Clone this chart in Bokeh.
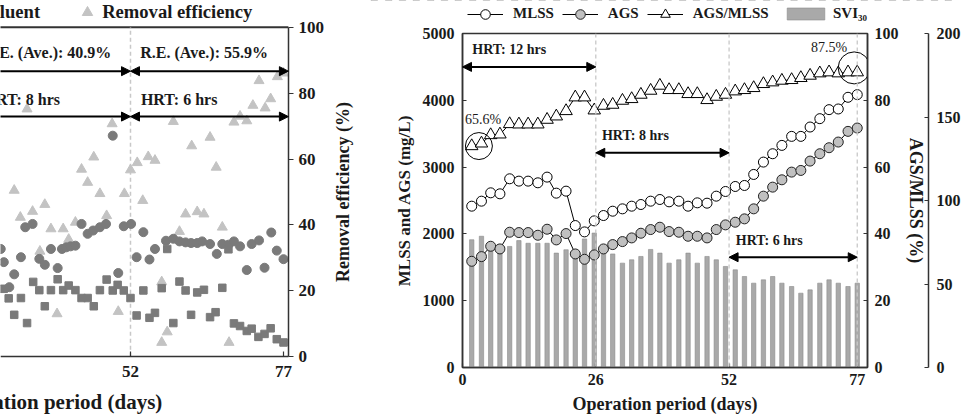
import math
from bokeh.plotting import figure
from bokeh.models import (Range1d, LinearAxis, FixedTicker, Span, Arrow, NormalHead,
                          Legend, LegendItem, Title)
from bokeh.layouts import row, column
from bokeh.embed import file_html
from bokeh.resources import INLINE
from bokeh.core.properties import value

FONT = "Liberation Serif"

# ---------------- left panel data (visible part) ----------------
inf_days = [30.8, 31.3, 32.2, 33.0, 34.1, 34.8, 36.0, 37.1, 38.0, 39.0, 40.1, 40.8, 41.5, 42.2,
            43.0, 44.0, 45.0, 45.9, 47.0, 48.0, 49.1, 50.0, 50.9, 52.1, 53.0, 54.1, 55.1, 56.0,
            57.8, 59.0, 60.0, 61.0, 61.9, 62.9, 63.7, 65.0, 66.1, 67.0, 68.0, 68.9, 69.9, 71.0,
            71.8, 73.0, 73.9, 75.0, 75.9, 77.0]
inf_vals = [32.7, 28.7, 21.1, 25.0, 30.2, 39.3, 40.3, 29.7, 27.9, 32.7, 26.9, 32.7, 33.2, 33.5,
            33.7, 40.3, 37.3, 38.3, 39.3, 40.3, 67.1, 25.4, 39.6, 40.3, 30.2, 37.8, 29.5, 32.7,
            35.2, 35.8, 35.0, 34.7, 34.5, 34.5, 35.0, 34.2, 31.2, 34.2, 34.0, 35.0, 33.5, 26.3,
            34.2, 35.3, 27.0, 37.7, 32.2, 29.6]

eff_days = [31.3, 32.1, 33.0, 34.1, 35.1, 36.1, 37.1, 38.0, 39.0, 40.1, 41.0, 41.9, 43.0, 44.0,
            45.0, 46.0, 47.0, 48.1, 49.1, 49.9, 50.9, 52.0, 53.0, 54.1, 55.1, 56.0, 57.1, 58.0,
            59.0, 60.0, 61.0, 61.9, 62.9, 64.0, 65.0, 65.9, 67.0, 68.0, 68.9, 69.9, 71.0, 71.8,
            72.9, 73.9, 74.9, 75.9, 77.0]
eff_vals = [20.6, 17.7, 12.7, 17.8, 10.2, 22.7, 20.2, 15.3, 20.2, 23.5, 20.2, 21.6, 20.2, 17.8,
            17.8, 15.3, 20.2, 23.4, 20.1, 21.8, 20.1, 17.8, 12.5, 20.1, 11.8, 13.3, 20.8, 32.7,
            10.2, 22.8, 20.1, 12.7, 19.5, 20.3, 12.0, 13.5, 20.9, 32.6, 10.1, 9.3, 7.8, 8.5,
            6.0, 6.9, 8.6, 5.3, 4.3]

re_days = [33.0, 34.0, 35.1, 36.0, 37.2, 38.0, 39.0, 40.0, 41.0, 41.9, 43.0, 44.0, 45.0, 46.0,
           47.0, 48.1, 49.0, 50.0, 51.0, 52.0, 53.1, 54.0, 54.9, 56.0, 57.1, 57.1, 58.0, 59.0,
           60.0, 61.0, 62.0, 62.9, 64.0, 65.0, 66.0, 67.0, 68.1, 68.9, 69.9, 71.0, 72.0, 73.0,
           74.0, 74.9, 76.0, 77.0]
re_vals = [50.5, 42.3, 75.2, 44.1, 32.0, 46.2, 38.8, 13.0, 38.8, 35.6, 40.8, 56.9, 52.9, 60.6,
           49.5, 42.8, 70.7, 13.7, 49.5, 56.7, 58.9, 47.4, 60.7, 59.6, 22.7, 4.3, 7.5, 71.4,
           38.0, 43.3, 64.0, 44.0, 43.3, 66.6, 57.5, 39.3, 4.3, 71.2, 73.0, 71.6, 76.3, 83.8,
           75.5, 78.3, 85.0, 86.1]

# ---------------- right panel data ----------------
days = [1.8, 3.7, 5.5, 7.3, 9.2, 11.0, 12.8, 14.7, 16.5, 18.3, 20.2, 22.0, 23.8, 25.7,
        27.5, 29.3, 31.2, 33.0, 34.8, 36.7, 38.5, 40.3, 42.2, 44.0, 45.8, 47.7, 49.5, 51.3,
        53.2, 55.0, 56.8, 58.7, 60.5, 62.3, 64.2, 66.0, 67.8, 69.7, 71.5, 73.3, 75.2, 77.0]
mlss = [2415, 2490, 2615, 2600, 2825, 2790, 2790, 2765, 2850, 2610, 2640, 2125, 2030, 2195,
        2275, 2340, 2375, 2415, 2440, 2490, 2515, 2480, 2490, 2415, 2465, 2460, 2565, 2635,
        2710, 2725, 2890, 3075, 3200, 3325, 3460, 3460, 3600, 3725, 3860, 3870, 4045, 4085]
ags = [1590, 1660, 1815, 1775, 2025, 2020, 2020, 1980, 2070, 1910, 2005, 1700, 1620, 1685,
       1775, 1840, 1885, 1940, 2010, 2065, 2100, 2035, 2025, 1965, 1965, 1940, 2065, 2135,
       2175, 2225, 2375, 2565, 2700, 2810, 2925, 2950, 3090, 3200, 3290, 3375, 3535, 3585]
ags_ratio = [66.3, 67.1, 69.6, 69.8, 72.9, 72.8, 72.8, 72.8, 74.2, 75.2, 76.8, 80.9, 80.9, 77.0,
             78.4, 78.7, 79.9, 80.4, 81.7, 82.9, 84.4, 83.1, 83.1, 81.9, 81.9, 80.1, 81.1, 81.7,
             82.7, 83.1, 83.7, 84.9, 85.4, 85.9, 86.1, 86.7, 87.4, 88.1, 88.4, 88.1, 88.4, 88.4]
svi = [76.5, 78.6, 74.0, 72.0, 72.5, 76.0, 74.4, 74.4, 74.4, 68.5, 70.5, 69.0, 77.0, 80.5,
       71.0, 68.0, 62.5, 64.5, 66.5, 70.7, 68.5, 62.5, 64.5, 68.5, 62.5, 66.5, 64.5, 60.5,
       58.5, 54.5, 50.5, 52.5, 54.5, 50.5, 48.5, 44.5, 46.5, 50.5, 52.5, 50.5, 48.5, 50.5]

x_ticks = [0, 26, 52, 77]
phase_ends = [26, 52, 77]

# series styles (shared by plot and legend swatches)
MLSS_LINE = dict(line_color="black", line_width=1)
MLSS_PTS = dict(marker="circle", size=10, fill_color="white", line_color="black", line_width=1)
AGS_LINE = dict(line_color="black", line_width=1)
AGS_PTS = dict(marker="circle", size=10, fill_color="#c0c0c0", line_color="#222222",
               line_width=1)
RAT_LINE = dict(line_color="black", line_width=1)
RAT_PTS = dict(marker="triangle", size=12.5, fill_color="white", line_color="black",
               line_width=1)
SVI_BAR = dict(width=0.85, fill_color="#a9a9a9", line_color="#8c8c8c", line_width=0.6)


def style_axis(ax, label_size="16px", title_size="18px"):
    ax.major_label_text_font = FONT
    ax.major_label_text_font_style = "bold"
    ax.major_label_text_font_size = label_size
    ax.major_label_text_color = "#1a1a1a"
    ax.axis_label_text_font = FONT
    ax.axis_label_text_font_style = "bold"
    ax.axis_label_text_font_size = title_size
    ax.axis_label_text_color = "#1a1a1a"
    ax.axis_line_color = "#333333"
    ax.axis_line_width = 1.5
    ax.major_tick_line_color = "#333333"
    ax.major_tick_line_width = 1.2
    ax.minor_tick_line_color = None


def head(size=9):
    return NormalHead(size=size, fill_color="black", line_color="black")


# ================= LEFT PANEL =================
# The frame fills the canvas (x 0..360, y 0..385) so the legend above the plot box and the
# axis texts stay visible; axes are pinned to day 77.8 / value 0 of the original plot box.
p1 = figure(width=360, height=417, x_range=Range1d(30.76, 89.58),
            y_range=Range1d(-8.157, 108.16),
            y_axis_location="right", output_backend="svg", toolbar_location=None,
            min_border_left=0, min_border_right=0, min_border_top=0, min_border_bottom=32)
p1.frame_align = False
p1.xgrid.visible = False
p1.ygrid.visible = False
p1.outline_line_color = None
p1.background_fill_color = "white"
p1.border_fill_color = "white"

style_axis(p1.xaxis[0], "17px")
p1.xaxis.fixed_location = 0
p1.xaxis.bounds = (30.76, 77.8)
p1.xaxis.ticker = FixedTicker(ticks=x_ticks)
p1.xaxis.major_tick_in = 5
p1.xaxis.major_tick_out = 0
p1.xaxis.major_label_standoff = 9

style_axis(p1.yaxis[0], "17px", "18px")
p1.yaxis.fixed_location = 77.8
p1.yaxis.bounds = (0, 100)
p1.yaxis.ticker = FixedTicker(ticks=[0, 20, 40, 60, 80, 100])
p1.yaxis.major_tick_in = 0
p1.yaxis.major_tick_out = 5
p1.yaxis.major_label_standoff = 5

# y-axis title (reads bottom-to-top, centred on the 0..100 scale)
p1.text(x=[86.64], y=[50], text=["Removal efficiency (%)"], angle=math.pi / 2,
        text_font=value(FONT), text_font_style=value("bold"), text_font_size="18px",
        text_align="center", text_baseline="middle", text_color="#1a1a1a")

p1.segment(x0=[20], y0=[100], x1=[77.8], y1=[100], line_color="#333333", line_width=2)
p1.segment(x0=[52], y0=[0], x1=[52], y1=[100], line_color="#c8c8c8",
           line_dash="4 3", line_width=1.5)

re_r = p1.scatter(re_days, re_vals, marker="triangle", size=10, fill_color="#c3c3c3",
                  line_color="#c3c3c3")
inf_r = p1.scatter(inf_days, inf_vals, marker="circle", size=9, fill_color="#7a7a7a",
                   line_color="#7a7a7a")
eff_r = p1.scatter(eff_days, eff_vals, marker="square", size=7.5, fill_color="#7a7a7a",
                   line_color="#7a7a7a")

# arrows and period texts
p1.add_layout(Arrow(end=head(), x_start=20, x_end=52, y_start=86.7, y_end=86.7,
                    line_width=2, line_color="black"))
p1.add_layout(Arrow(start=head(), end=head(), x_start=52, x_end=77.8, y_start=86.7,
                    y_end=86.7, line_width=2, line_color="black"))
p1.add_layout(Arrow(end=head(), x_start=20, x_end=52, y_start=72.9, y_end=72.9,
                    line_width=2, line_color="black"))
p1.add_layout(Arrow(start=head(), end=head(), x_start=52, x_end=77.8, y_start=72.9,
                    y_end=72.9, line_width=2, line_color="black"))
p1.text(x=[28.0, 53.6, 28.0, 53.7], y=[92.5, 92.5, 78.2, 78.2],
        text=["R.E. (Ave.): 40.9%", "R.E. (Ave.): 55.9%", "HRT: 8 hrs", "HRT: 6 hrs"],
        text_font=value(FONT), text_font_style=value("bold"), text_font_size="16px",
        text_align="left", text_baseline="middle", text_color="#1a1a1a")

# x-axis title of the (cut-off) left panel
p1.add_layout(Title(text="Operation period (days)", align="left", offset=-54, standoff=8,
                    text_font=FONT, text_font_style="bold", text_font_size="21px",
                    text_color="#1a1a1a"), "below")

leg1 = Legend(items=[LegendItem(label="Influent", renderers=[inf_r]),
                     LegendItem(label="Effluent", renderers=[eff_r]),
                     LegendItem(label="Removal efficiency", renderers=[re_r])],
              orientation="horizontal", location=(-179, 358),
              glyph_width=26, glyph_height=26, label_height=26, label_standoff=2,
              spacing=34, padding=0, margin=0, border_line_color=None,
              background_fill_alpha=0, label_text_font=FONT, label_text_font_style="bold",
              label_text_font_size="18.6px", label_text_color="#1a1a1a")
p1.add_layout(leg1)

# ================= RIGHT PANEL =================
p2 = figure(width=603, height=394, x_range=Range1d(0, 79), y_range=Range1d(0, 5000),
            output_backend="svg", toolbar_location=None,
            min_border_left=102, min_border_right=92, min_border_top=10, min_border_bottom=50)
p2.frame_align = False
p2.extra_y_ranges = {"pct": Range1d(0, 100), "svi": Range1d(0, 200)}
p2.xgrid.visible = False
p2.ygrid.visible = False
p2.outline_line_color = "#333333"
p2.outline_line_width = 1.5
p2.background_fill_color = "white"
p2.border_fill_color = "white"

style_axis(p2.xaxis[0], "16px", "18px")
p2.xaxis.ticker = FixedTicker(ticks=x_ticks)
p2.xaxis.major_tick_in = 4
p2.xaxis.major_tick_out = 0
p2.xaxis.major_label_standoff = 6
p2.xaxis.axis_label = "Operation period (days)"
p2.xaxis.axis_label_standoff = 6

style_axis(p2.yaxis[0], "16px", "17px")
p2.yaxis.ticker = FixedTicker(ticks=[0, 1000, 2000, 3000, 4000, 5000])
p2.yaxis.axis_label = "MLSS and AGS (mg/L)"
p2.yaxis.major_tick_in = 4
p2.yaxis.major_tick_out = 0
p2.yaxis.major_label_standoff = 8
p2.yaxis.axis_label_standoff = 6

ax_pct = LinearAxis(y_range_name="pct", ticker=FixedTicker(ticks=[0, 20, 40, 60, 80, 100]),
                    axis_label="AGS/MLSS (%)")
style_axis(ax_pct, "16px", "18px")
ax_pct.major_tick_in = 4
ax_pct.major_tick_out = 0
ax_pct.major_label_standoff = 7
ax_pct.axis_label_standoff = 4
p2.add_layout(ax_pct, "right")

ax_svi = LinearAxis(y_range_name="svi", ticker=FixedTicker(ticks=[0, 50, 100, 150, 200]))
style_axis(ax_svi, "16px")
ax_svi.major_tick_in = 4
ax_svi.major_tick_out = 0
ax_svi.major_label_standoff = 8
p2.add_layout(ax_svi, "right")

for loc in phase_ends:
    p2.add_layout(Span(location=loc, dimension="height", line_color="#c8c8c8",
                       line_dash="4 3", line_width=1.3))

p2.vbar(x=days, top=svi, y_range_name="svi", **SVI_BAR)
p2.line(days, mlss, **MLSS_LINE)
p2.scatter(days, mlss, **MLSS_PTS)
p2.line(days, ags, **AGS_LINE)
p2.scatter(days, ags, **AGS_PTS)
p2.line(days, ags_ratio, y_range_name="pct", **RAT_LINE)
p2.scatter(days, ags_ratio, y_range_name="pct", **RAT_PTS)

# highlight circles around first / last ratio values
p2.circle(x=[3.2, 76.4], y=[66.3, 89.7], radius=[13.5, 16], radius_units="screen",
          fill_color=None, line_color="black", line_width=1, y_range_name="pct")

p2.add_layout(Arrow(start=head(), end=head(), x_start=0, x_end=26, y_start=4500, y_end=4500,
                    line_width=2, line_color="black"))
p2.add_layout(Arrow(start=head(), end=head(), x_start=26, x_end=52, y_start=3214, y_end=3214,
                    line_width=2, line_color="black"))
p2.add_layout(Arrow(start=head(), end=head(), x_start=52, x_end=77, y_start=1651, y_end=1651,
                    line_width=2, line_color="black"))
p2.text(x=[1.9, 27.2, 53.3], y=[4760, 3473, 1901],
        text=["HRT: 12 hrs", "HRT: 8 hrs", "HRT: 6 hrs"],
        text_font=value(FONT), text_font_style=value("bold"), text_font_size="14px",
        text_align="left", text_baseline="middle", text_color="#1a1a1a")
p2.text(x=[0.5, 68.0], y=[3708, 4790], text=["65.6%", "87.5%"],
        text_font=value(FONT), text_font_size="14px",
        text_align="left", text_baseline="middle", text_color="#1a1a1a")

# legend strip above the right panel; its renderers carry the same series and styles,
# with a value range that keeps the marks themselves out of view
p_leg = figure(width=603, height=23, x_range=Range1d(0, 79), y_range=Range1d(-2, -1),
               x_axis_location=None, y_axis_location=None, output_backend="svg",
               toolbar_location=None, min_border_left=0, min_border_right=0,
               min_border_top=0, min_border_bottom=0)
p_leg.frame_align = False
p_leg.outline_line_color = None
p_leg.grid.visible = False
p_leg.background_fill_color = "white"
p_leg.border_fill_color = "white"
lg_ml = p_leg.line(days, mlss, **MLSS_LINE)
lg_ms = p_leg.scatter(days, mlss, **MLSS_PTS)
lg_al = p_leg.line(days, ags, **AGS_LINE)
lg_as = p_leg.scatter(days, ags, **AGS_PTS)
lg_rl = p_leg.line(days, ags_ratio, **RAT_LINE)
lg_rs = p_leg.scatter(days, ags_ratio, **RAT_PTS)
lg_bar = p_leg.vbar(x=days, top=svi, bottom=0, **SVI_BAR)

leg2 = Legend(items=[LegendItem(label="MLSS", renderers=[lg_ml, lg_ms]),
                     LegendItem(label="AGS", renderers=[lg_al, lg_as]),
                     LegendItem(label="AGS/MLSS", renderers=[lg_rl, lg_rs])],
              orientation="horizontal", location=(107, -2.5),
              glyph_width=36, glyph_height=24, label_height=24, label_standoff=10,
              spacing=8, padding=0, margin=0, border_line_color=None,
              background_fill_alpha=0, label_text_font=FONT, label_text_font_style="bold",
              label_text_font_size="15px", label_text_color="#1a1a1a")
p_leg.add_layout(leg2)
leg3 = Legend(items=[LegendItem(label="SVI₃₀", renderers=[lg_bar])],
              orientation="horizontal", location=(422, 1.5),
              glyph_width=47, glyph_height=15, label_height=15, label_standoff=4,
              padding=0, margin=0, border_line_color=None, background_fill_alpha=0,
              label_text_font=FONT, label_text_font_style="bold",
              label_text_font_size="15px", label_text_color="#1a1a1a")
p_leg.add_layout(leg3)

layout = row(p1, column(p_leg, p2))
open("out.html", "w").write(file_html(layout, INLINE))
